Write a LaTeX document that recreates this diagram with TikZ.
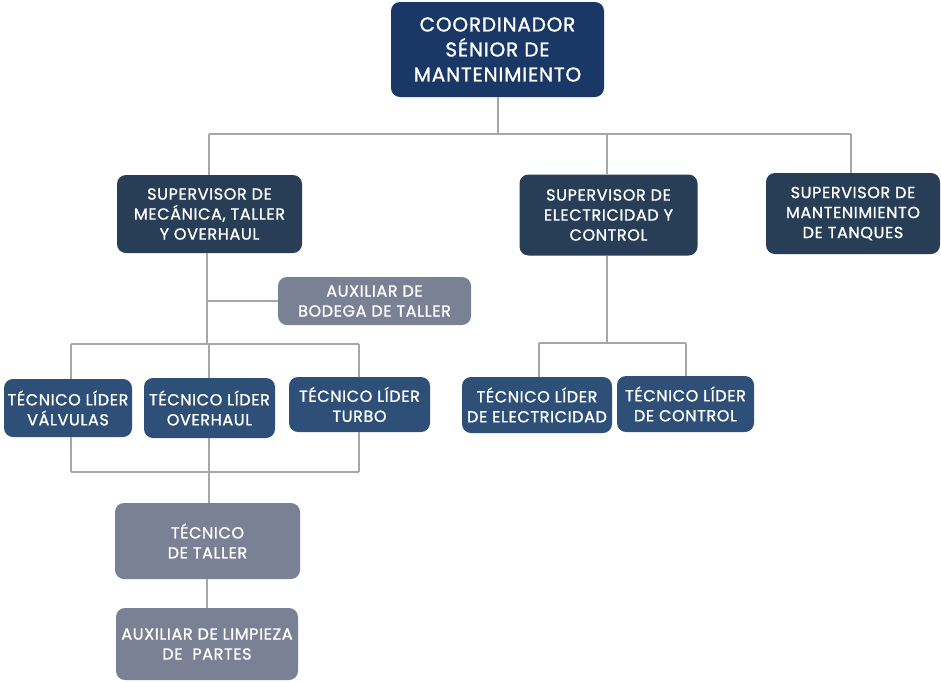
\documentclass[tikz,border=0pt]{standalone}
\usepackage{fontspec}
\setmainfont{Poppins}
\newfontfamily\boxfont{Poppins}[LetterSpace=4,FakeBold=1.2]
\definecolor{topc}{HTML}{1A3866}
\definecolor{supc}{HTML}{283E56}
\definecolor{tecc}{HTML}{2E5078}
\definecolor{grayc}{HTML}{7B8195}
\definecolor{linec}{HTML}{A6A6A6}
\tikzset{
  box/.style={rounded corners=9pt, inner sep=0pt, align=center, text=white,
    font=\boxfont\fontsize{16}{20}\selectfont},
  topbox/.style={box, fill=topc, font=\boxfont\fontsize{20}{25}\selectfont},
  supbox/.style={box, fill=supc},
  tecbox/.style={box, fill=tecc},
  graybox/.style={box, fill=grayc},
  conn/.style={draw=linec, line width=1.6pt}
}
\begin{document}
\begin{tikzpicture}[x=1pt,y=-1pt]
\useasboundingbox (0,0) rectangle (941,681);
\node[topbox, minimum width=213pt, minimum height=95pt] (top) at (497.5,49.5) {COORDINADOR\\SÉNIOR DE\\MANTENIMIENTO};
\node[supbox, minimum width=185pt, minimum height=78pt] (sup1) at (209.5,214) {SUPERVISOR DE\\MECÁNICA, TALLER\\Y OVERHAUL};
\node[supbox, minimum width=178pt, minimum height=81pt] (sup2) at (608.5,215) {SUPERVISOR DE\\ELECTRICIDAD Y\\CONTROL};
\node[supbox, minimum width=174pt, minimum height=81pt] (sup3) at (853,213.5) {SUPERVISOR DE\\MANTENIMIENTO\\DE TANQUES};
\node[graybox, minimum width=193pt, minimum height=48pt] (aux) at (374.5,301) {AUXILIAR DE\\BODEGA DE TALLER};
\node[tecbox, minimum width=128pt, minimum height=58pt] (valv) at (68,408) {TÉCNICO LÍDER\\VÁLVULAS};
\node[tecbox, minimum width=131pt, minimum height=60pt] (ovh) at (209.5,408) {TÉCNICO LÍDER\\OVERHAUL};
\node[tecbox, minimum width=141pt, minimum height=55pt] (turbo) at (359.5,404.5) {TÉCNICO LÍDER\\TURBO};
\node[tecbox, minimum width=150pt, minimum height=56pt] (elec) at (537,405) {TÉCNICO LÍDER\\DE ELECTRICIDAD};
\node[tecbox, minimum width=137pt, minimum height=56pt] (ctrl) at (685.5,404) {TÉCNICO LÍDER\\DE CONTROL};
\node[graybox, minimum width=185pt, minimum height=76pt] (taller) at (207.5,541) {TÉCNICO\\DE TALLER};
\node[graybox, minimum width=182pt, minimum height=72pt] (limp) at (207,644) {AUXILIAR DE LIMPIEZA\\DE~~PARTES};
% bus coordinates
\coordinate (b0) at (498,134);
\coordinate (bL) at (209,134);
\coordinate (bM) at (607,134);
\coordinate (bR) at (851,134);
\coordinate (v1) at (207,344);
\coordinate (t1) at (71,344);
\coordinate (t2) at (209,344);
\coordinate (t3) at (359,344);
\coordinate (u1) at (71,472);
\coordinate (u2) at (209,472);
\coordinate (u3) at (359,472);
\coordinate (e0) at (607,343);
\coordinate (e1) at (539,343);
\coordinate (e2) at (686,343);
% connectors
\draw[conn] (top.south -| b0) -- (b0);
\draw[conn] (bL) -- (bR);
\draw[conn] (bL) -- (bL |- sup1.north);
\draw[conn] (bM) -- (bM |- sup2.north);
\draw[conn] (bR) -- (bR |- sup3.north);
\draw[conn] (v1 |- sup1.south) -- (v1);
\draw[conn] (v1 |- aux.west) -- (aux.west);
\draw[conn] (t1) -- (t3);
\draw[conn] (t1) -- (t1 |- valv.north);
\draw[conn] (t2) -- (t2 |- ovh.north);
\draw[conn] (t3) -- (t3 |- turbo.north);
\draw[conn] (u1) -- (u3);
\draw[conn] (u1) -- (u1 |- valv.south);
\draw[conn] (u3) -- (u3 |- turbo.south);
\draw[conn] (u2 |- ovh.south) -- (u2 |- taller.north);
\draw[conn] (taller.south -| limp.north) -- (limp.north);
\draw[conn] (e0 |- sup2.south) -- (e0);
\draw[conn] (e1) -- (e2);
\draw[conn] (e1) -- (e1 |- elec.north);
\draw[conn] (e2) -- (e2 |- ctrl.north);
\end{tikzpicture}
\end{document}
